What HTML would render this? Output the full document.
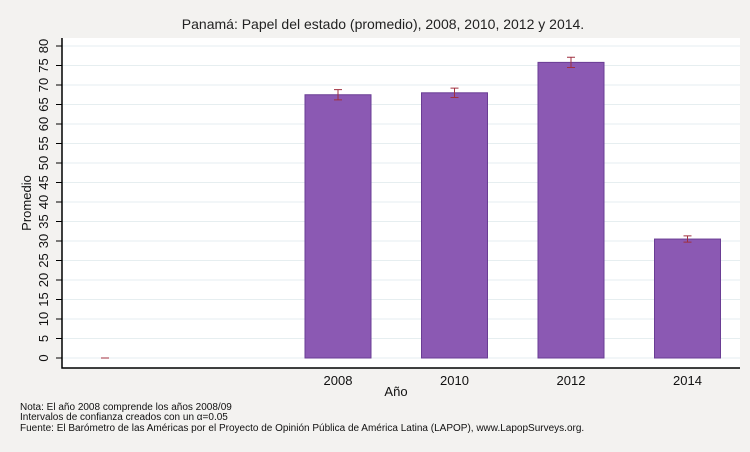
<!DOCTYPE html>
<html><head><meta charset="utf-8"><style>
body{margin:0;background:#f3f2f0;font-family:"Liberation Sans",sans-serif}
svg{display:block}
</style></head><body>
<svg width="750" height="452">
<rect x="0" y="0" width="750" height="452" fill="#f3f2f0"/>
<text x="383" y="29" font-size="14" text-anchor="middle" fill="#222">Panamá: Papel del estado (promedio), 2008, 2010, 2012 y 2014.</text>
<rect x="62" y="38" width="678" height="330" fill="#fff"/>
<g id="grid"></g><g id="bars"></g><g id="axes"></g>
<text transform="translate(31,203) rotate(-90)" font-size="13" text-anchor="middle" fill="#111">Promedio</text>
<text x="396" y="396" font-size="13" text-anchor="middle" fill="#111">Año</text>
<text x="20" y="410" font-size="10" fill="#111">Nota: El año 2008 comprende los años 2008/09</text>
<text x="20" y="420" font-size="10" fill="#111">Intervalos de confianza creados con un α=0.05</text>
<text x="20" y="431" font-size="10" fill="#111">Fuente: El Barómetro de las Américas por el Proyecto de Opinión Pública de América Latina (LAPOP), www.LapopSurveys.org.</text>
</svg>
<script>
const categories=["","","2008","2010","2012","2014"];
const values=[0,null,67.5,68,75.8,30.5];
const errLow=[0,null,66.2,66.8,74.5,29.7];
const errHigh=[0,null,68.8,69.2,77.1,31.3];
const yTicks=[0,5,10,15,20,25,30,35,40,45,50,55,60,65,70,75,80];
const NS="http://www.w3.org/2000/svg";
const y=v=>358-v*(312/80);
const x=i=>105+i*116.5;
function mk(tag,attrs,parent){const e=document.createElementNS(NS,tag);for(const k in attrs)e.setAttribute(k,attrs[k]);parent.appendChild(e);return e;}
const grid=document.getElementById('grid'),bars=document.getElementById('bars'),axes=document.getElementById('axes');
yTicks.forEach(t=>{
 const g=mk('line',{x1:62,x2:740,y1:y(t),y2:y(t),stroke:'#e6eef0','stroke-width':1},grid);
 
 
 const tk=mk('line',{x1:56,x2:62,y1:y(t),y2:y(t),stroke:'#000'},axes);
 
 
 const tx=mk('text',{transform:`translate(48,${y(t)}) rotate(-90)`,'font-size':13,'text-anchor':'middle',fill:'#111'},axes);
 tx.textContent=t;
 
 
});
categories.forEach((c,i)=>{
 const v=values[i];
 if(v!==null&&v>0){
  const r=mk('rect',{x:x(i)-33,y:y(v),width:66,height:y(0)-y(v),fill:'#8b59b3',stroke:'#6a3d94'},bars);
  
  
 }
 if(v!==null){
  const p=mk('path',{d:`M${x(i)-4} ${y(errHigh[i])}H${x(i)+4}M${x(i)} ${y(errHigh[i])}V${y(errLow[i])}M${x(i)-4} ${y(errLow[i])}H${x(i)+4}`,stroke:'#a03040',fill:'none'},bars);
  
  
 }
 if(c){
  const t=mk('text',{x:x(i),y:385,'font-size':13,'text-anchor':'middle',fill:'#111'},axes);
  t.textContent=c;
  
  
 }
});
const ax=mk('path',{d:'M62 38V368H740',stroke:'#000','stroke-width':1.5,fill:'none'},axes);


</script>
</body></html>
